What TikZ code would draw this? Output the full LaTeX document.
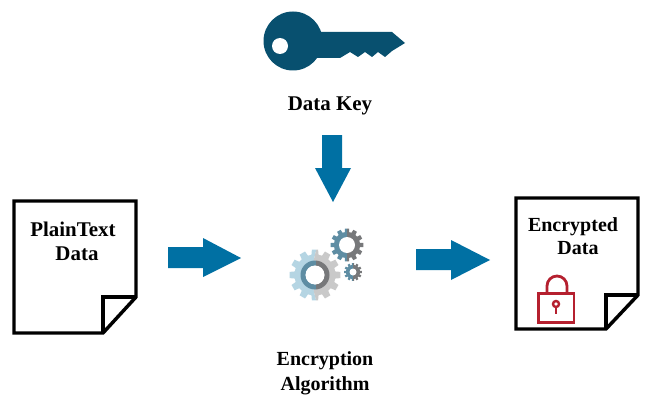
\documentclass[tikz,border=0pt]{standalone}
\usepackage{fontspec}
\setmainfont{Liberation Serif}
\definecolor{arrowblue}{HTML}{0070A3}
\definecolor{keyblue}{HTML}{08506F}
\definecolor{lockred}{HTML}{B5202F}
\definecolor{gearlight}{HTML}{B5D5E3}
\definecolor{gearpale}{HTML}{C9C9C9}
\definecolor{gearblue}{HTML}{5E8DA3}
\definecolor{geargray}{HTML}{77787A}
\newcommand{\gearshape}[4]{% cx, cy, outer r, inner r
  ({#1+#4*cos(-15)},{#2+#4*sin(-15)})
  \foreach \a in {0,30,...,330}{
    -- ({#1+#4*cos(\a-15)},{#2+#4*sin(\a-15)})
    -- ({#1+#4*cos(\a-10)},{#2+#4*sin(\a-10)})
    -- ({#1+#3*cos(\a-7)},{#2+#3*sin(\a-7)})
    -- ({#1+#3*cos(\a+7)},{#2+#3*sin(\a+7)})
    -- ({#1+#4*cos(\a+10)},{#2+#4*sin(\a+10)})
  } -- cycle}
\tikzset{
  lbl/.style={font=\fontsize{15.7}{18}\selectfont\bfseries, inner sep=0pt, text=black, anchor=base},
  lblsmall/.style={lbl, font=\fontsize{15}{18}\selectfont\bfseries},
  docline/.style={draw=black, line width=2.6pt, fill=white, line join=miter},
  blockarrow/.style={fill=arrowblue, draw=none},
  lockline/.style={draw=lockred, line width=2.1pt}
}
\begin{document}
\begin{tikzpicture}[x=0.75pt,y=-0.75pt]
\useasboundingbox (0,0) rectangle (671,410);
\fill[white] (0,0) rectangle (671,410);

% key
\fill[keyblue] (293,41) circle (29.5);
\fill[keyblue] (315,32) -- (392,32) -- (405,43) -- (392,51) -- (385,57) -- (378,52) -- (372,57) -- (365,52) -- (358,57) -- (350,52) -- (340,58) -- (315,58) -- cycle;
\fill[white] (280,46) circle (8);
\node[lbl] (keylabel) at (330,110.5) {Data Key};

% arrows
\fill[blockarrow] (322,135) -- (342,135) -- (342,168) -- (351,168) -- (333,202) -- (315,168) -- (322,168) -- cycle;
\fill[blockarrow] (168,247) -- (203,247) -- (203,238) -- (241,258) -- (203,277) -- (203,268) -- (168,268) -- cycle;
\fill[blockarrow] (416,249) -- (451,249) -- (451,240) -- (490,260) -- (451,280) -- (451,270) -- (416,270) -- cycle;

% plain document
\path[docline] (14,201) -- (136,201) -- (136,297) -- (103,333) -- (14,333) -- cycle;
\draw[docline,fill=none] (136,297) -- (103,297) -- (103,333);
\node[lbl] (plainA) at (73,236) {PlainText};
\node[lbl] (plainB) at (77,260) {Data};

% encrypted document
\path[docline] (516,198) -- (638,198) -- (638,295) -- (606,329) -- (516,329) -- cycle;
\draw[docline,fill=none] (638,295) -- (606,295) -- (606,329);
\node[lblsmall] (encA) at (573,231) {Encrypted};
\node[lblsmall] (encB) at (578,254) {Data};

% lock
\draw[lockline] (538.5,293.5) rectangle (574,322.5);
\draw[lockline] (547,293) -- (547,286) arc[start angle=180,end angle=360,radius=10] -- (567,293);
\draw[lockline,line width=1.8pt] (556,304) circle (3);
\draw[lockline,line width=1.8pt] (556,307) -- (556,314);

% gears
\begin{scope}
  \clip (320,240) .. controls (310,262) and (310,290) .. (320,310) -- (280,310) -- (280,240) -- cycle;
  \fill[gearlight] \gearshape{315}{275}{25.5}{20.5};
\end{scope}
\begin{scope}
  \clip (320,240) .. controls (310,262) and (310,290) .. (320,310) -- (350,310) -- (350,240) -- cycle;
  \fill[gearpale] \gearshape{315}{275}{25.5}{20.5};
\end{scope}
\begin{scope}
  \clip (280,240) rectangle (316,310);
  \fill[gearblue,even odd rule] (315,275) circle (14.5) (315,275) circle (9.5);
\end{scope}
\begin{scope}
  \clip (316,240) rectangle (350,310);
  \fill[geargray,even odd rule] (315,275) circle (14.5) (315,275) circle (9.5);
\end{scope}
\fill[white] (315,275) circle (9.5);
\begin{scope}
  \clip (330,225) rectangle (347,265);
  \fill[gearblue] \gearshape{347}{245}{16.5}{13};
\end{scope}
\begin{scope}
  \clip (347,225) rectangle (365,265);
  \fill[geargray] \gearshape{347}{245}{16.5}{13};
\end{scope}
\fill[white] (347,245) circle (8);
\begin{scope}
  \clip (340,260) rectangle (353,285);
  \fill[gearblue] \gearshape{353}{272}{9}{7};
\end{scope}
\begin{scope}
  \clip (353,260) rectangle (365,285);
  \fill[geargray] \gearshape{353}{272}{9}{7};
\end{scope}
\fill[white] (353,272) circle (3.5);

\node[lblsmall] (algA) at (325,365.5) {Encryption};
\node[lblsmall] (algB) at (325,390) {Algorithm};
\end{tikzpicture}
\end{document}
